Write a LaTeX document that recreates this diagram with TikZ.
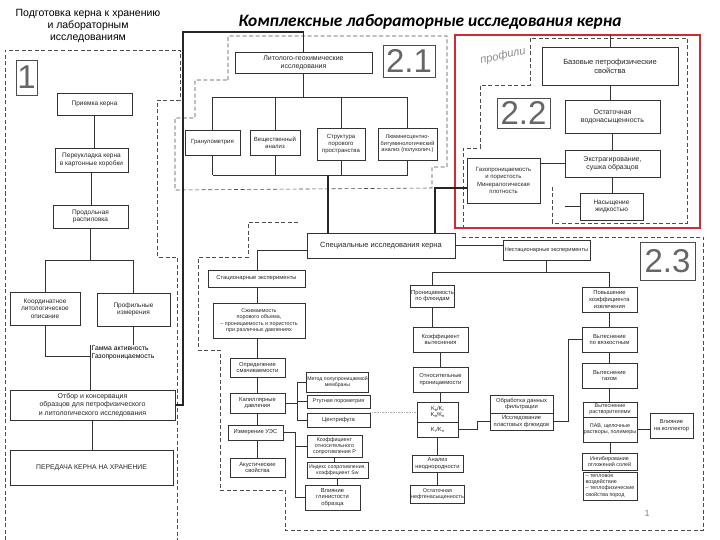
\documentclass[tikz,border=0pt]{standalone}
\usepackage{fontspec}
\setmainfont{Liberation Sans}
\newfontfamily\carl{Carlito}
\definecolor{redfr}{RGB}{204,44,52}
\newcommand{\sbs}[1]{\raisebox{-0.3ex}{\fontsize{4}{4}\selectfont #1}}
\newcommand{\BX}[6][]{\node[bx,#1,minimum width={#4-#2},minimum height={#5-#3}] (#6) at ({(#2+#4)/2},{(#3+#5)/2})}
\begin{document}
\begin{tikzpicture}[x=1pt,y=-1pt,
 bx/.style={draw=black!80,line width=0.75pt,fill=white,align=center,inner sep=0.5pt,font=\fontsize{5.8}{6.6}\selectfont,text=black!85},
 numbox/.style={font=\fontsize{33}{33}\selectfont,text=black!60,draw=black!70,line width=0.6pt},
 sec1/.style={font=\fontsize{6.5}{7.6}\selectfont},
 mid/.style={font=\fontsize{7}{8.2}\selectfont},
 ln/.style={draw=black!80,line width=0.75pt},
 thk/.style={draw=black!85,line width=1.8pt},
 grp/.style={draw=black!70,line width=0.6pt,dash pattern=on 4pt off 2.5pt}]
\fill[white] (0,0) rectangle (720,540);
\useasboundingbox (0,0) rectangle (720,540);

% titles
\node[font=\fontsize{10.5}{12}\selectfont,align=center] (t1) at (88,26) {Подготовка керна к хранению\\и лабораторным\\исследованиям};
\node[font=\carl\bfseries\itshape\fontsize{17.4}{18}\selectfont] (t2) at (430,22) {Комплексные лабораторные исследования керна};

% group outlines
\draw[grp] (5,540) -- (5,50) -- (180,50) -- (180,100) -- (157,100) -- (157,257) -- (177,257) -- (177,540);
\draw[grp] (228,80) -- (228,36) -- (447,36) -- (447,167) -- (432,167) -- (432,188) -- (175,190) -- (175,118) -- (195,118) -- (195,80) -- cycle;
\draw[grp] (552,187) -- (552,223) -- (687,223) -- (687,38) -- (530,38) -- (530,85) -- (480,85) -- (480,148) -- (463,148) -- (463,228);
\draw[grp] (462,237) -- (703,237) -- (703,530) -- (285,530) -- (285,490) -- (220,490) -- (220,350) -- (198,350) -- (198,257) -- (248,257) -- (248,222) -- (300,222);
\draw[draw=redfr,line width=1.7pt] (455,35) rectangle (700,228);
\node[text=black!45,font=\itshape\fontsize{11}{11}\selectfont,rotate=12] (hw) at (503,56) {профили};

% section 1
\BX[numbox]{16}{60}{37}{95}{n1}{1};
\BX[sec1]{57}{93}{132}{115}{priem}{Приемка керна};
\BX[sec1]{55}{148}{128}{172}{perek}{Переукладка керна\\в картонные коробки};
\BX[sec1]{53}{205}{128}{228}{prod}{Продольная\\распиловка};
\BX[sec1]{10}{292}{80}{325}{koord}{Координатное\\литологическое\\описание};
\BX[sec1]{97}{293}{170}{326}{prof}{Профильные\\измерения};
\node[font=\fontsize{6.8}{8.5}\selectfont,align=left,anchor=west,inner sep=0.5pt] (gam) at (91,353) {Гамма активность\\Газопроницаемость};
\BX[font=\fontsize{7}{8.5}\selectfont]{10}{390}{175}{420}{otbor}{Отбор и консервация\\образцов для петрофизического\\и литологического исследования};
\BX[font=\fontsize{6.8}{8}\selectfont]{10}{450}{173}{485}{pered}{ПЕРЕДАЧА КЕРНА НА ХРАНЕНИЕ};

\draw[ln] (priem.south) -- (priem.south |- perek.north);
\draw[ln] (perek.south) -- (perek.south |- prod.north);
\coordinate (s1bus) at (90.5,260);
\draw[ln] (prod.south) -- (prod.south |- s1bus);
\draw[ln] (koord.north |- s1bus) -- (prof.north |- s1bus);
\draw[ln] (koord.north |- s1bus) -- (koord.north);
\draw[ln] (prof.north |- s1bus) -- (prof.north);
\coordinate (gj) at (90,356);
\draw[ln] (koord.south) |- (gj);
\draw[ln] (gj |- gam.north) -- (gj |- otbor.north);
\draw[ln] (prof.south) -- (prof.south |- gam.north);
\draw[ln] (otbor.south) -- (otbor.south |- pered.north);

% section 2.1
\BX[mid]{235}{52}{372}{73}{lito}{Литолого-геохимические\\исследования};
\BX[numbox]{383}{45}{435}{77}{n21}{2.1};
\BX[font=\fontsize{6}{7}\selectfont]{185}{130}{240}{155}{gran}{Гранулометрия};
\BX[font=\fontsize{6}{7}\selectfont]{250}{130}{300}{155}{vesch}{Вещественный\\анализ};
\BX[font=\fontsize{6}{7}\selectfont]{317}{128}{365}{160}{strukt}{Структура\\порового\\пространства};
\BX[font=\fontsize{5.6}{6.6}\selectfont]{378}{128}{437}{160}{lumin}{Люминесцентно-\\битуминологический\\анализ (полуколич.)};

\coordinate (tk1) at (183,32);
\draw[thk] (otbor.east) -| (tk1) -| (lito.north);
\coordinate (b21) at (305,97);
\draw[ln] (lito.south) -- (lito.south |- b21);
\draw[ln] (gran.north |- b21) -- (lumin.north |- b21);
\foreach \n in {gran,vesch,strukt,lumin} \draw[ln] (\n.north |- b21) -- (\n.north);
\coordinate (b21b) at (305,175);
\draw[ln] (gran.south |- b21b) -- (lumin.south |- b21b);
\foreach \n in {gran,vesch,strukt,lumin} \draw[ln] (\n.south |- b21b) -- (\n.south);

% section 2.2
\BX[font=\fontsize{7.5}{8.8}\selectfont]{542}{47}{678}{85}{baz}{Базовые петрофизические\\свойства};
\BX[numbox]{497}{98}{550}{128}{n22}{2.2};
\BX[mid]{565}{100}{660}{133}{ost}{Остаточная\\водонасыщенность};
\BX[mid]{565}{150}{660}{177}{ekstr}{Экстрагирование,\\сушка образцов};
\BX[font=\fontsize{6}{7.5}\selectfont]{467}{158}{540}{203}{left22}{Газопроницаемость\\и пористость\\Минералогическая\\плотность};
\BX[font=\fontsize{6.5}{7.6}\selectfont]{580}{193}{643}{220}{nas}{Насыщение\\жидкостью};

\coordinate (rtop) at (610,35);
\draw[ln] (baz.north) -- (rtop);
\draw[ln] (baz.south) -- (baz.south |- ost.north);
\draw[ln] (ost.south) -- (ost.south |- ekstr.north);
\draw[ln] (ekstr.south) -- (ekstr.south |- nas.north);
\draw[ln] (ekstr.west -| left22.east) -- (ekstr.west);
\coordinate (l22) at (435,188);
\draw[ln] (nas.west) -- ++(-15,0);

% section 2.3
\BX[font=\fontsize{7.5}{8.5}\selectfont]{307}{233}{455}{258}{spec}{Специальные исследования керна};
\BX[numbox]{640}{242}{695}{280}{n23}{2.3};
\BX{208}{270}{305}{287}{stac}{Стационарные эксперименты};
\BX[font=\fontsize{5.4}{6.4}\selectfont]{213}{303}{305}{338}{szhim}{Сжимаемость\\порового объема,\\-- проницаемость и пористость\\при различных давлениях};
\BX{230}{358}{285}{377}{smach}{Определение\\смачиваемости};
\BX{230}{393}{285}{413}{kapil}{Капиллярные\\давления};
\BX{228}{425}{283}{440}{ues}{Измерение УЭС};
\BX{230}{458}{285}{477}{akust}{Акустические\\свойства};

\BX[font=\fontsize{5.2}{6}\selectfont]{307}{372}{368}{392}{m1}{Метод полупроницаемой\\мембраны};
\BX[font=\fontsize{5.4}{6}\selectfont]{307}{395}{370}{408}{m2}{Ртутная порометрия};
\BX{307}{413}{370}{427}{m3}{Центрифуга};
\BX[font=\fontsize{5.4}{6.2}\selectfont]{307}{435}{362}{457}{m4}{Коэффициент\\относительного\\сопротивления Р};
\BX[font=\fontsize{5.2}{6}\selectfont]{307}{462}{368}{478}{m5}{Индекс сопротивления,\\коэффициент Sw};
\BX{305}{485}{360}{510}{m6}{Влияние\\глинистости\\образца};

\BX[font=\fontsize{5.6}{6.6}\selectfont]{503}{240}{590}{260}{nest}{Нестационарные эксперименты};
\BX{412}{285}{453}{307}{effp}{Проницаемость\\по флюидам};
\BX{413}{327}{468}{352}{koefv}{Коэффициент\\вытеснения};
\BX{413}{367}{468}{392}{otnp}{Относительные\\проницаемости};
\BX{417}{402}{458}{422}{kv1}{K\sbs{в}/K\sbs{г}\\K\sbs{в}/K\sbs{н}};
\BX{417}{422}{458}{437}{kv2}{K\sbs{г}/K\sbs{н}};
\BX{412}{455}{463}{472}{analiz}{Анализ\\неоднородности};
\BX[font=\fontsize{5.4}{6.2}\selectfont]{412}{485}{463}{503}{ostn}{Остаточная\\нефтенасыщенность};
\BX{490}{395}{553}{413}{obr1}{Обработка данных\\фильтрации};
\BX{490}{413}{553}{430}{obr2}{Исследование\\пластовых флюидов};

\BX{582}{287}{637}{312}{povysh}{Повышение\\коэффициента\\извлечения};
\BX{582}{327}{637}{352}{vyt}{Вытеснение\\по вязкостным};
\BX{582}{363}{637}{388}{vytg}{Вытеснение\\газом};
\BX[font=\fontsize{5.4}{6.2}\selectfont]{583}{402}{637}{417}{rast}{Вытеснение\\растворителями};
\BX[font=\fontsize{5.4}{6.2}\selectfont]{583}{417}{637}{442}{pav}{ПАВ, щелочные\\растворы, полимеры};
\BX{650}{413}{693}{438}{vliy}{Влияние\\на коллектор};
\BX[font=\fontsize{5.4}{6.2}\selectfont]{582}{453}{637}{470}{ingib}{Ингибирование\\отложений солей};
\BX[font=\fontsize{5.4}{6.2}\selectfont,align=left]{583}{472}{637}{500}{teplo}{-- тепловое\\воздействие\\-- теплофизические\\свойства пород};

% 2.3 connectors
\coordinate (sp1) at (328,175);
\draw[thk] (sp1) -- (sp1 |- spec.north);
\draw[thk] (left22.west |- l22) -- (l22) -- (l22 |- spec.north);
\coordinate (spL) at (257,250);
\draw[ln] (spec.west |- spL) -- (spL) -- (spL |- stac.north);
\draw[ln] (stac.south -| spL) -- (spL |- szhim.north);
\draw[ln] (szhim.south -| spL) -- (spL |- smach.north);
\draw[ln] (smach.south -| spL) -- (spL |- kapil.north);
\draw[ln] (kapil.south -| spL) -- (spL |- ues.north);
\draw[ln] (ues.south -| spL) -- (spL |- akust.north);
\coordinate (brk) at (297,403);
\draw[ln] (kapil.east) -- (brk);
\draw[ln] (m1.west) -| (brk |- m3.west) -- (m3.west);
\draw[ln] (m2.west -| brk) -- (m2.west);
\coordinate (uj) at (295,432.5);
\draw[ln] (ues.east) -- (uj) |- (m6.west);
\draw[ln] (uj |- m4.west) -- (m4.west);
\draw[ln] (m4.south) -- (m4.south |- m5.north);
\draw[ln] (m5.south) -- (m5.south |- m6.north);
\draw[gray!60,densely dotted,line width=0.6pt] (m3.north east) -- (m3.north east -| kv1.west);

\draw[ln] (spec.east) -- (spec.east -| nest.west);
\coordinate (b23) at (546,272);
\draw[ln] (nest.south) -- (nest.south |- b23);
\draw[ln] (effp.north |- b23) -- (povysh.north |- b23);
\draw[ln] (effp.north |- b23) -- (effp.north);
\draw[ln] (povysh.north |- b23) -- (povysh.north);
\draw[ln] (effp.south) -- (effp.south |- koefv.north);
\draw[ln] (koefv.south) -- (koefv.south |- otnp.north);
\draw[ln] (otnp.south) -- (otnp.south |- kv1.north);
\draw[ln] (kv2.south) -- (kv2.south |- analiz.north);
\draw[ln] (analiz.south) -- (analiz.south |- ostn.north);
\coordinate (kvj) at (477,430);
\draw[ln] (kv2.east) -- (kvj |- kv2.east) |- (obr2.west);
\coordinate (oj) at (568,422);
\draw[ln] (obr2.east) -| (oj |- vyt.west) -- (vyt.west);
\draw[ln] (povysh.south) -- (povysh.south |- vyt.north);
\draw[ln] (vyt.south) -- (vyt.south |- vytg.north);
\draw[ln] (vytg.south) -- (vytg.south |- rast.north);
\draw[ln] (pav.south) -- (pav.south |- ingib.north);
\draw[ln] (ingib.south) -- (ingib.south |- teplo.north);
\draw[ln] (pav.east) -- (pav.east -| vliy.west);

\node[text=black!50,font=\fontsize{9}{9}\selectfont] (pg) at (647,513) {1};
\end{tikzpicture}
\end{document}
